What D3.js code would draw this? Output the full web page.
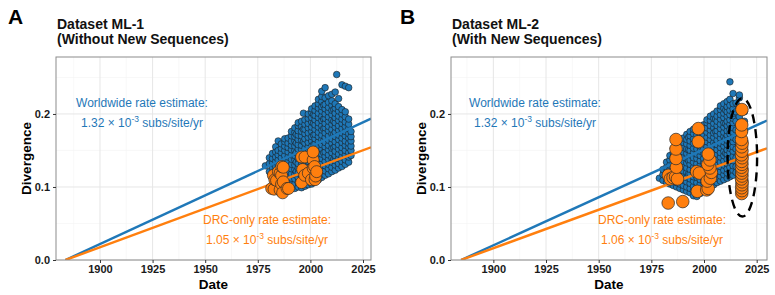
<!DOCTYPE html>
<html>
<head>
<meta charset="utf-8">
<script src="https://cdn.jsdelivr.net/npm/d3@7"></script>
<style>
  body { margin: 0; background: #fff; }
  svg { font-family: "Liberation Sans", Arial, sans-serif; }
</style>
</head>
<body>
<div id="chart"></div>
<script>
// ---- data ----
const xTicks = [1900, 1925, 1950, 1975, 2000, 2025];
const yTicks = [0.0, 0.1, 0.2];

// blue: worldwide sequences, columns of [date, [divergences]]
const blueColsA = [
  [1978.6, [0.129]],
  [1980.5, [0.121, 0.132, 0.140]],
  [1982.0, [0.113, 0.119, 0.126, 0.133, 0.139, 0.146]],
  [1983.5, [0.108, 0.115, 0.122, 0.128, 0.135, 0.141, 0.148, 0.155]],
  [1984.7, [0.104, 0.110, 0.117, 0.124, 0.131, 0.137, 0.144, 0.150, 0.163]],
  [1986.2, [0.101, 0.108, 0.114, 0.121, 0.127, 0.134, 0.140, 0.147, 0.153, 0.159]],
  [1987.8, [0.097, 0.104, 0.111, 0.117, 0.124, 0.130, 0.137, 0.143, 0.150, 0.156, 0.162, 0.166]],
  [1989.4, [0.096, 0.102, 0.109, 0.115, 0.122, 0.128, 0.135, 0.141, 0.148, 0.154, 0.160, 0.167]],
  [1991.0, [0.099, 0.105, 0.112, 0.118, 0.125, 0.131, 0.138, 0.144, 0.151, 0.157, 0.163, 0.170, 0.176]],
  [1992.6, [0.098, 0.104, 0.111, 0.117, 0.124, 0.130, 0.137, 0.143, 0.150, 0.156, 0.163, 0.169, 0.175, 0.181]],
  [1993.3, [0.121, 0.134, 0.147, 0.160, 0.172]],
  [1994.2, [0.100, 0.106, 0.113, 0.119, 0.126, 0.132, 0.139, 0.145, 0.152, 0.158, 0.165, 0.171, 0.177, 0.184, 0.188]],
  [1995.8, [0.099, 0.105, 0.112, 0.118, 0.125, 0.131, 0.138, 0.144, 0.151, 0.157, 0.164, 0.170, 0.176, 0.183, 0.190]],
  [1996.7, [0.128, 0.146, 0.162, 0.179, 0.201]],
  [1997.4, [0.101, 0.108, 0.114, 0.121, 0.127, 0.134, 0.140, 0.147, 0.153, 0.160, 0.166, 0.173, 0.179, 0.186, 0.192]],
  [1999.0, [0.103, 0.109, 0.116, 0.122, 0.129, 0.135, 0.142, 0.148, 0.155, 0.161, 0.168, 0.174, 0.181, 0.187, 0.194, 0.200]],
  [2000.6, [0.104, 0.111, 0.117, 0.124, 0.130, 0.137, 0.143, 0.150, 0.156, 0.163, 0.169, 0.176, 0.182, 0.189, 0.195, 0.202, 0.207]],
  [2001.5, [0.141, 0.158, 0.171, 0.187, 0.199]],
  [2002.2, [0.107, 0.114, 0.120, 0.127, 0.133, 0.140, 0.146, 0.153, 0.159, 0.166, 0.172, 0.179, 0.185, 0.192, 0.198, 0.205, 0.211]],
  [2003.8, [0.110, 0.117, 0.123, 0.130, 0.136, 0.143, 0.149, 0.156, 0.162, 0.169, 0.175, 0.182, 0.188, 0.195, 0.201, 0.208, 0.214, 0.220]],
  [2005.4, [0.113, 0.119, 0.126, 0.132, 0.139, 0.145, 0.152, 0.158, 0.165, 0.171, 0.178, 0.184, 0.191, 0.197, 0.204, 0.210, 0.217, 0.224, 0.231]],
  [2006.3, [0.147, 0.163, 0.180, 0.193, 0.212]],
  [2007.0, [0.116, 0.122, 0.129, 0.135, 0.142, 0.148, 0.155, 0.161, 0.168, 0.174, 0.181, 0.187, 0.194, 0.200, 0.207, 0.213, 0.222, 0.236]],
  [2008.6, [0.118, 0.125, 0.131, 0.138, 0.144, 0.151, 0.157, 0.164, 0.170, 0.177, 0.183, 0.190, 0.196, 0.203, 0.209, 0.216, 0.225]],
  [2010.2, [0.121, 0.127, 0.134, 0.140, 0.147, 0.153, 0.160, 0.166, 0.173, 0.179, 0.186, 0.192, 0.199, 0.205, 0.212, 0.218, 0.227]],
  [2011.1, [0.138, 0.154, 0.172, 0.190, 0.206]],
  [2011.8, [0.123, 0.130, 0.136, 0.143, 0.149, 0.156, 0.162, 0.169, 0.175, 0.182, 0.188, 0.195, 0.201, 0.208, 0.214, 0.230]],
  [2012.5, [0.254]],
  [2013.4, [0.126, 0.132, 0.139, 0.145, 0.152, 0.158, 0.165, 0.171, 0.178, 0.184, 0.191, 0.197, 0.204, 0.210, 0.221]],
  [2015.0, [0.128, 0.135, 0.141, 0.148, 0.154, 0.161, 0.167, 0.174, 0.180, 0.187, 0.193, 0.200, 0.206, 0.240]],
  [2016.6, [0.131, 0.137, 0.144, 0.150, 0.157, 0.163, 0.170, 0.176, 0.183, 0.189, 0.196, 0.203, 0.238]],
  [2018.2, [0.134, 0.141, 0.147, 0.154, 0.160, 0.167, 0.173, 0.180, 0.186, 0.193, 0.236]],
  [2019.3, [0.143, 0.150, 0.156, 0.163, 0.169, 0.176]]
];

const blueColsB = [
  [1978.8, [0.112]],
  [1980.5, [0.109, 0.117, 0.124]],
  [1982.2, [0.106, 0.113, 0.120, 0.127, 0.134]],
  [1983.8, [0.104, 0.111, 0.117, 0.124, 0.130, 0.137, 0.143]],
  [1985.4, [0.102, 0.108, 0.115, 0.121, 0.128, 0.134, 0.141, 0.147, 0.153]],
  [1987.0, [0.100, 0.106, 0.113, 0.119, 0.126, 0.132, 0.139, 0.145, 0.152, 0.158]],
  [1988.6, [0.098, 0.104, 0.111, 0.117, 0.124, 0.130, 0.137, 0.143, 0.150, 0.156, 0.162]],
  [1990.2, [0.096, 0.102, 0.109, 0.115, 0.122, 0.128, 0.135, 0.141, 0.148, 0.154, 0.161, 0.167]],
  [1991.8, [0.094, 0.100, 0.107, 0.113, 0.120, 0.126, 0.133, 0.139, 0.146, 0.152, 0.159, 0.165, 0.172]],
  [1992.7, [0.118, 0.136, 0.151, 0.168]],
  [1993.4, [0.092, 0.098, 0.105, 0.111, 0.118, 0.124, 0.131, 0.137, 0.144, 0.150, 0.157, 0.163, 0.170, 0.176]],
  [1995.0, [0.088, 0.095, 0.101, 0.108, 0.114, 0.121, 0.127, 0.134, 0.140, 0.147, 0.153, 0.160, 0.166, 0.173, 0.179]],
  [1996.6, [0.087, 0.093, 0.100, 0.106, 0.113, 0.119, 0.126, 0.132, 0.139, 0.145, 0.152, 0.158, 0.165, 0.171, 0.178]],
  [1998.2, [0.091, 0.097, 0.104, 0.110, 0.117, 0.123, 0.130, 0.136, 0.143, 0.149, 0.156, 0.162, 0.169, 0.175, 0.182]],
  [1999.8, [0.094, 0.100, 0.107, 0.113, 0.120, 0.126, 0.133, 0.139, 0.146, 0.152, 0.159, 0.165, 0.172, 0.178, 0.185]],
  [2000.6, [0.129, 0.147, 0.163, 0.180]],
  [2001.4, [0.097, 0.103, 0.110, 0.116, 0.123, 0.129, 0.136, 0.142, 0.149, 0.155, 0.162, 0.168, 0.175, 0.181, 0.188, 0.192]],
  [2003.0, [0.100, 0.106, 0.113, 0.119, 0.126, 0.132, 0.139, 0.145, 0.152, 0.158, 0.165, 0.171, 0.178, 0.184, 0.191, 0.197]],
  [2004.6, [0.103, 0.109, 0.116, 0.122, 0.129, 0.135, 0.142, 0.148, 0.155, 0.161, 0.168, 0.174, 0.181, 0.187, 0.194, 0.200]],
  [2005.5, [0.139, 0.158, 0.176, 0.193]],
  [2006.2, [0.106, 0.112, 0.119, 0.125, 0.132, 0.138, 0.145, 0.151, 0.158, 0.164, 0.171, 0.177, 0.184, 0.190, 0.197, 0.204]],
  [2007.8, [0.108, 0.115, 0.121, 0.128, 0.134, 0.141, 0.147, 0.154, 0.160, 0.167, 0.173, 0.180, 0.186, 0.193, 0.199, 0.206, 0.211]],
  [2009.4, [0.110, 0.117, 0.123, 0.130, 0.136, 0.143, 0.149, 0.156, 0.162, 0.169, 0.175, 0.182, 0.188, 0.195, 0.201, 0.208, 0.214]],
  [2010.3, [0.146, 0.166, 0.187, 0.205]],
  [2011.0, [0.112, 0.119, 0.125, 0.132, 0.138, 0.145, 0.151, 0.158, 0.164, 0.171, 0.177, 0.184, 0.190, 0.197, 0.203, 0.210, 0.217]],
  [2012.3, [0.114, 0.121, 0.127, 0.134, 0.140, 0.147, 0.153, 0.160, 0.166, 0.173, 0.179, 0.186, 0.192, 0.199, 0.205, 0.212, 0.220, 0.244]],
  [2013.8, [0.116, 0.123, 0.129, 0.136, 0.142, 0.149, 0.155, 0.162, 0.168, 0.175, 0.181, 0.188, 0.194, 0.201, 0.207, 0.214, 0.228]],
  [2015.2, [0.120, 0.128, 0.140, 0.152, 0.165, 0.178, 0.190, 0.203, 0.215]],
  [2016.8, [0.105, 0.118, 0.131, 0.144, 0.157, 0.170, 0.183, 0.196, 0.209, 0.222, 0.226]],
  [2019.2, [0.100, 0.112, 0.125, 0.138, 0.151, 0.164, 0.177, 0.190, 0.203]]
];

// orange: DRC sequences, [date, divergence]
const orangeA = [
  [1981.6, 0.098], [1982.4, 0.116], [1982.7, 0.097], [1983.1, 0.110], [1983.9, 0.109],
  [1984.8, 0.121], [1985.6, 0.096], [1985.6, 0.119], [1986.3, 0.104], [1986.3, 0.116],
  [1986.4, 0.128], [1986.8, 0.092], [1987.1, 0.107], [1987.1, 0.127], [1988.9, 0.098],
  [1989.6, 0.098], [1995.8, 0.106], [1995.8, 0.141], [1996.3, 0.124], [1997.3, 0.116],
  [1997.4, 0.141], [1999.0, 0.119], [2000.5, 0.110], [2001.3, 0.126], [2001.3, 0.137],
  [2001.3, 0.148], [2002.0, 0.128], [2002.2, 0.110], [2002.5, 0.115], [2003.0, 0.121]
];

const orangeB = [
  [1983.0, 0.078], [1989.9, 0.080], [1983.1, 0.116], [1984.0, 0.111], [1985.3, 0.113],
  [1986.5, 0.114], [1987.4, 0.111], [1986.9, 0.127], [1986.7, 0.139], [1986.7, 0.152],
  [1986.7, 0.165], [1996.8, 0.094], [1996.5, 0.121], [1997.8, 0.119], [1997.3, 0.162],
  [1997.3, 0.180], [2001.3, 0.096], [2002.0, 0.098], [2001.5, 0.108], [2003.0, 0.112],
  [2003.5, 0.120], [2002.8, 0.126], [2001.8, 0.131], [2002.8, 0.137], [2002.0, 0.145],
  [2017.9, 0.091], [2018.0, 0.095], [2017.9, 0.099], [2018.0, 0.103], [2018.1, 0.107],
  [2017.8, 0.111], [2018.0, 0.115], [2017.9, 0.119], [2018.1, 0.123], [2017.8, 0.127],
  [2018.0, 0.131], [2017.9, 0.135], [2018.1, 0.140], [2017.8, 0.144], [2018.0, 0.149],
  [2017.9, 0.155], [2018.1, 0.160], [2017.8, 0.165], [2017.8, 0.176], [2017.9, 0.185],
  [2018.0, 0.206]
];

// regression lines, [date, divergence] end points
const worldLineA = [[1883.6, 0], [2028.8, 0.1936]];
const drcLineA = [[1883.6, 0], [2028.8, 0.1544]];
const worldLineB = [[1884.7, 0], [2029.9, 0.1910]];
const drcLineB = [[1884.7, 0], [2029.9, 0.1530]];

const worldRates = ["1.32", "1.32"];
const drcRates = ["1.05", "1.06"];

// ---- drawing ----
const W = 775, H = 295;
const blue = "#1f78b8", orange = "#ff7f0e";

const svg = d3.select("#chart").append("svg")
  .attr("width", W).attr("height", H);

const flat = cols => cols.flatMap(([yr, ds]) => ds.map(d => [yr, d]));

const panels = [
  { letter: "A", title: ["Dataset ML-1", "(Without New Sequences)"],
    left: 56, right: 371, xdom: [1879.1, 2028.8],
    blue: flat(blueColsA), orange: orangeA, orangeR: 6,
    world: worldLineA, drc: drcLineA, wRate: worldRates[0], dRate: drcRates[0],
    wx: 142, dx: 267, letterX: 8, yLabX: 26, ellipse: null },
  { letter: "B", title: ["Dataset ML-2", "(With New Sequences)"],
    left: 451, right: 767, xdom: [1879.9, 2029.9],
    blue: flat(blueColsB), orange: orangeB, orangeR: 6.3,
    world: worldLineB, drc: drcLineB, wRate: worldRates[1], dRate: drcRates[1],
    wx: 535, dx: 662, letterX: 400, yLabX: 421,
    ellipse: { cx: 2018.2, cy: 0.1405, rx: 7.0, ry: 0.081 } }
];

const plotTop = 57, plotBottom = 260;

panels.forEach((p, i) => {
  const x = d3.scaleLinear().domain(p.xdom).range([p.left, p.right]);
  const y = d3.scaleLinear().domain([0, 0.278]).range([plotBottom, plotTop]);
  const g = svg.append("g");

  // gridlines (minor then major)
  const minorX = xTicks.map(t => t - 12.5).concat([2025 + 12.5]).filter(t => t > p.xdom[0] && t < p.xdom[1]);
  const minorY = [0.05, 0.15, 0.25];
  g.append("g").selectAll("line").data(minorX).join("line")
    .attr("x1", d => x(d)).attr("x2", d => x(d)).attr("y1", plotTop).attr("y2", plotBottom)
    .attr("stroke", "#f3f3f3").attr("stroke-width", 0.6);
  g.append("g").selectAll("line").data(minorY).join("line")
    .attr("x1", p.left).attr("x2", p.right).attr("y1", d => y(d)).attr("y2", d => y(d))
    .attr("stroke", "#f3f3f3").attr("stroke-width", 0.6);
  g.append("g").selectAll("line").data(xTicks).join("line")
    .attr("x1", d => x(d)).attr("x2", d => x(d)).attr("y1", plotTop).attr("y2", plotBottom)
    .attr("stroke", "#e6e6e6").attr("stroke-width", 1);
  g.append("g").selectAll("line").data(yTicks).join("line")
    .attr("x1", p.left).attr("x2", p.right).attr("y1", d => y(d)).attr("y2", d => y(d))
    .attr("stroke", "#e6e6e6").attr("stroke-width", 1);

  const clipId = "clip" + i;
  svg.append("clipPath").attr("id", clipId).append("rect")
    .attr("x", p.left).attr("y", plotTop).attr("width", p.right - p.left).attr("height", plotBottom - plotTop);
  const plot = g.append("g").attr("clip-path", `url(#${clipId})`);

  // blue points
  plot.append("g").selectAll("circle").data(p.blue).join("circle")
    .attr("cx", d => x(d[0])).attr("cy", d => y(d[1])).attr("r", 3.3)
    .attr("fill", blue).attr("stroke", "#1b1b1b").attr("stroke-width", 0.6);

  // regression lines
  const line = d3.line().x(d => x(d[0])).y(d => y(d[1]));
  plot.append("path").attr("d", line(p.world)).attr("fill", "none")
    .attr("stroke", blue).attr("stroke-width", 2.4);
  plot.append("path").attr("d", line(p.drc)).attr("fill", "none")
    .attr("stroke", orange).attr("stroke-width", 2.4);

  // orange points
  plot.append("g").selectAll("circle").data(p.orange).join("circle")
    .attr("cx", d => x(d[0])).attr("cy", d => y(d[1])).attr("r", p.orangeR)
    .attr("fill", orange).attr("stroke", "#2a2a2a").attr("stroke-width", 0.7);

  // dashed ellipse around new sequences
  if (p.ellipse) {
    const e = p.ellipse;
    plot.append("ellipse")
      .attr("cx", x(e.cx)).attr("cy", y(e.cy))
      .attr("rx", x(e.cx + e.rx) - x(e.cx)).attr("ry", y(0) - y(e.ry))
      .attr("fill", "none").attr("stroke", "#000").attr("stroke-width", 2.4)
      .attr("stroke-dasharray", "9,6");
  }

  // panel border
  g.append("rect").attr("x", p.left).attr("y", plotTop)
    .attr("width", p.right - p.left).attr("height", plotBottom - plotTop)
    .attr("fill", "none").attr("stroke", "#8c8c8c").attr("stroke-width", 1);

  // axes
  const xa = g.append("g").attr("transform", `translate(0,${plotBottom})`)
    .call(d3.axisBottom(x).tickValues(xTicks).tickSize(3).tickPadding(2).tickFormat(d3.format("d")));
  const ya = g.append("g").attr("transform", `translate(${p.left},0)`)
    .call(d3.axisLeft(y).tickValues(yTicks).tickSize(3).tickPadding(3).tickFormat(d3.format(".1f")));
  [xa, ya].forEach(a => {
    a.select(".domain").remove();
    a.selectAll(".tick line").attr("stroke", "#333");
    a.selectAll(".tick text").attr("fill", "#1a1a1a")
      .style("font-size", "11px").style("font-weight", "bold")
      .style("font-family", "'Liberation Sans', Arial, sans-serif");
  });

  // axis titles
  g.append("text").attr("x", (p.left + p.right) / 2).attr("y", 289)
    .attr("text-anchor", "middle").style("font-size", "13.5px").style("font-weight", "bold")
    .text("Date");
  g.append("text").attr("transform", `translate(${p.yLabX + 5},${(plotTop + plotBottom) / 2}) rotate(-90)`)
    .attr("text-anchor", "middle").style("font-size", "13.5px").style("font-weight", "bold")
    .text("Divergence");

  // panel letter and title
  g.append("text").attr("x", p.letterX).attr("y", 24)
    .style("font-size", "21px").style("font-weight", "bold").text(p.letter);
  p.title.forEach((t, k) => {
    g.append("text").attr("x", p.left + 1).attr("y", 29 + k * 15)
      .style("font-size", "14px").style("font-weight", "bold").attr("fill", "#111").text(t);
  });

  // rate annotations
  const rateText = (cx, yy, color, label, rate) => {
    g.append("text").attr("x", cx).attr("y", yy).attr("text-anchor", "middle")
      .attr("fill", color).style("font-size", "12px").text(label);
    const t = g.append("text").attr("x", cx).attr("y", yy + 20).attr("text-anchor", "middle")
      .attr("fill", color).style("font-size", "12px");
    t.append("tspan").text(`${rate} \u00d7 10`);
    t.append("tspan").attr("dy", -5).style("font-size", "8.5px").text("-3");
    t.append("tspan").attr("dy", 5).text(" subs/site/yr");
  };
  rateText(p.wx, 107, blue, "Worldwide rate estimate:", p.wRate);
  rateText(p.dx, 224, orange, "DRC-only rate estimate:", p.dRate);
});
</script>
</body>
</html>
